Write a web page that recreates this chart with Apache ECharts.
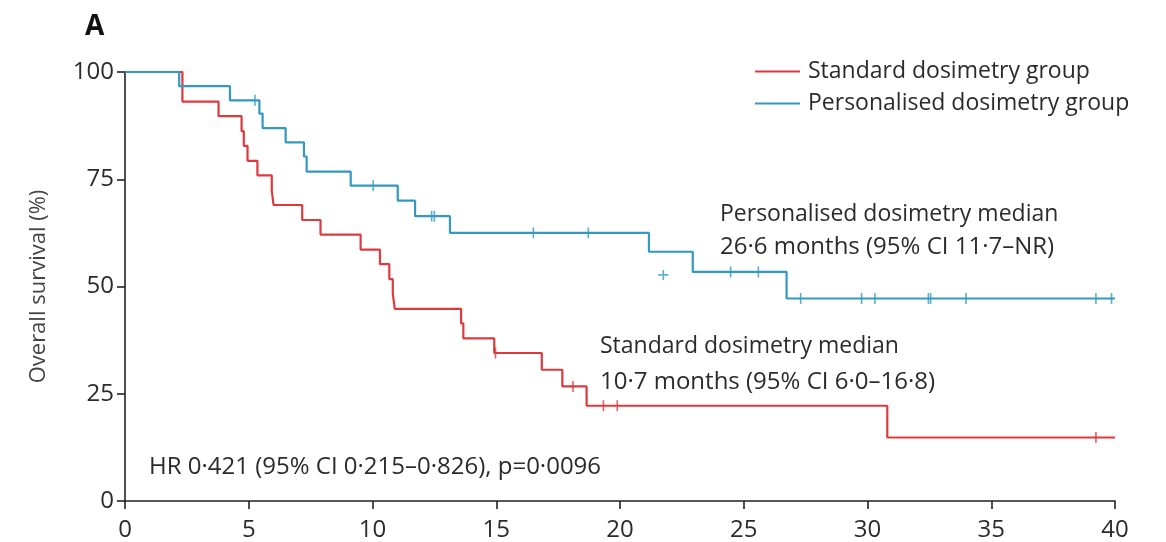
<!DOCTYPE html>
<html>
<head>
<meta charset="utf-8">
<script src="https://cdn.jsdelivr.net/npm/echarts@6/dist/echarts.min.js"></script>
<style>
html,body{margin:0;padding:0;background:#fff;}
#chart{width:1166px;height:542px;}
</style>
</head>
<body>
<div id="chart"></div>
<script>
// ---- Data ----
const xTickValues = [0, 5, 10, 15, 20, 25, 30, 35, 40];
const yTickValues = [0, 25, 50, 75, 100];

// Standard dosimetry group: event times (months) and survival (%) after each step
const stdTimes = [0, 2.32, 3.78, 4.71, 4.80, 4.95, 5.35, 5.93, 6.00, 7.16, 7.90, 9.52, 10.30, 10.68, 10.82, 10.90, 13.58, 13.67, 14.92, 16.84, 17.67, 18.65, 30.80, 40];
const stdSurv  = [100, 93.1, 89.7, 86.2, 82.8, 79.3, 75.9, 72.4, 69.0, 65.5, 62.1, 58.6, 55.2, 51.7, 48.3, 44.8, 41.4, 37.9, 34.5, 30.6, 26.7, 22.2, 14.8, 14.8];
const stdCensorTimes = [14.97, 18.10, 19.33, 19.89, 39.23];
const stdCensorSurv  = [34.5, 26.7, 22.2, 22.2, 14.8];

// Personalised dosimetry group
const perTimes = [0, 2.19, 4.24, 5.43, 5.56, 6.49, 7.23, 7.34, 9.12, 11.02, 11.72, 13.13, 21.17, 22.94, 26.73, 40];
const perSurv  = [100, 96.7, 93.4, 90.3, 86.9, 83.6, 80.3, 76.8, 73.5, 70.0, 66.4, 62.5, 58.1, 53.4, 47.2, 47.2];
const perCensorTimes = [5.25, 10.03, 12.39, 12.50, 16.50, 18.72, 24.47, 25.59, 27.30, 29.76, 30.30, 32.46, 32.55, 33.98, 39.23, 39.86];
const perCensorSurv  = [93.4, 73.5, 66.4, 66.4, 62.5, 62.5, 53.4, 53.4, 47.2, 47.2, 47.2, 47.2, 47.2, 47.2, 47.2, 47.2];
const perStrayMark = [[21.75, 52.7]];

const seriesNames = ['Standard dosimetry group', 'Personalised dosimetry group'];
const annotations = {
  perMedian: ['Personalised dosimetry median', '26·6 months (95% CI 11·7–NR)'],
  stdMedian: ['Standard dosimetry median', '10·7 months (95% CI 6·0–16·8)'],
  hr: 'HR 0·421 (95% CI 0·215–0·826), p=0·0096'
};

// ---- Build ----
const RED = '#dd3a3e';
const BLUE = '#3399c0';
const TXT = '#2b2b2b';
const FONT = '"Open Sans", "Noto Sans", sans-serif';

const zip = (a, b) => a.map((v, i) => [v, b[i]]);

const chart = echarts.init(document.getElementById('chart'), null, {renderer: 'canvas'});

const tickSym = 'rect';
const plusSym = 'path://M4.2,0h1.6v10h-1.6zM0,4.2h10v1.6h-10z';

const option = {
  animation: false,
  backgroundColor: '#fff',
  textStyle: {fontFamily: FONT},
  title: {
    text: 'A', left: 80, top: 8,
    textStyle: {fontSize: 28, fontWeight: 'bold', color: '#111', fontFamily: FONT}
  },
  legend: {
    data: seriesNames,
    orient: 'vertical',
    left: 750, top: 54,
    icon: 'rect',
    itemWidth: 45, itemHeight: 2,
    itemGap: 7,
    textStyle: {fontSize: 23, color: TXT, fontFamily: FONT, lineHeight: 25, padding: [0, 0, 0, 3]}
  },
  grid: {left: 125, right: 51, top: 72, bottom: 40, containLabel: false},
  xAxis: {
    type: 'value', min: 0, max: 40, interval: 5,
    axisLine: {show: true, onZero: false, lineStyle: {color: '#222', width: 1.6}},
    axisTick: {show: true, length: 8, lineStyle: {color: '#222', width: 1.6},
      customValues: xTickValues},
    axisLabel: {fontSize: 24, color: TXT, margin: 17, fontFamily: FONT,
      customValues: xTickValues},
    splitLine: {show: false}
  },
  yAxis: {
    type: 'value', min: 0, max: 100, interval: 25,
    name: 'Overall survival (%)',
    nameLocation: 'middle', nameGap: 75, nameRotate: 90,
    nameTextStyle: {fontSize: 22, color: '#444', fontFamily: FONT},
    axisLine: {show: true, onZero: false, lineStyle: {color: '#222', width: 1.6}},
    axisTick: {show: true, length: 8, lineStyle: {color: '#222', width: 1.6},
      customValues: yTickValues},
    axisLabel: {fontSize: 24, color: TXT, margin: 11, fontFamily: FONT,
      customValues: yTickValues},
    splitLine: {show: false}
  },
  series: [
    {
      name: seriesNames[0], type: 'line', step: 'end',
      data: zip(stdTimes, stdSurv),
      showSymbol: false, symbol: 'none',
      lineStyle: {color: RED, width: 2.2}, itemStyle: {color: RED},
      z: 3
    },
    {
      name: seriesNames[1], type: 'line', step: 'end',
      data: zip(perTimes, perSurv),
      showSymbol: false, symbol: 'none',
      lineStyle: {color: BLUE, width: 2.2}, itemStyle: {color: BLUE},
      z: 3
    },
    {
      name: 'stdCensor', type: 'scatter', silent: true,
      data: zip(stdCensorTimes, stdCensorSurv),
      symbol: tickSym, symbolSize: [1.6, 11],
      itemStyle: {color: RED}, z: 4
    },
    {
      name: 'perCensor', type: 'scatter', silent: true,
      data: zip(perCensorTimes, perCensorSurv),
      symbol: tickSym, symbolSize: [1.6, 11],
      itemStyle: {color: BLUE}, z: 4
    },
    {
      name: 'perStray', type: 'scatter', silent: true,
      data: perStrayMark,
      symbol: plusSym, symbolSize: 10,
      itemStyle: {color: BLUE}, z: 4
    }
  ],
  graphic: [
    {type: 'text', left: 720, top: 203, style: {text: annotations.perMedian[0], fontSize: 23, fill: TXT, fontFamily: FONT}},
    {type: 'text', left: 720, top: 235, style: {text: annotations.perMedian[1], fontSize: 24, fill: TXT, fontFamily: FONT}},
    {type: 'text', left: 600, top: 335, style: {text: annotations.stdMedian[0], fontSize: 23, fill: TXT, fontFamily: FONT}},
    {type: 'text', left: 600, top: 370, style: {text: annotations.stdMedian[1], fontSize: 24, fill: TXT, fontFamily: FONT}},
    {type: 'text', left: 149, top: 455, style: {text: annotations.hr, fontSize: 24, fill: TXT, fontFamily: FONT}}
  ]
};

chart.setOption(option);
</script>
</body>
</html>
